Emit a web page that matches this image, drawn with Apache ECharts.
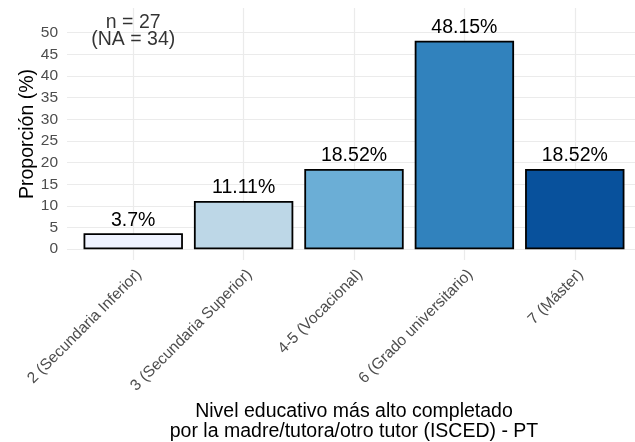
<!DOCTYPE html>
<html>
<head>
<meta charset="utf-8">
<script src="https://cdn.jsdelivr.net/npm/echarts@6/dist/echarts.min.js"></script>
<style>
html,body{margin:0;padding:0;background:#fff;}
#chart{width:635px;height:442px;}
</style>
</head>
<body>
<div id="chart"></div>
<script>
// ---- data ----
const categories = ['2 (Secundaria Inferior)', '3 (Secundaria Superior)', '4-5 (Vocacional)', '6 (Grado universitario)', '7 (Máster)'];
const proportions = [3.7, 11.11, 18.52, 48.15, 18.52];
const yTicks = [0, 5, 10, 15, 20, 25, 30, 35, 40, 45, 50];
const nValid = 27;
const nMissing = 34;
const annotationY = 50.4;

// ---- styles ----
const barColors = ['#EFF3FF', '#BDD7E7', '#6BAED6', '#3182BD', '#08519C'];
const FONT = 'Liberation Sans, Arial, sans-serif';

const positions = categories.map((c, i) => i + 1);
const barData = proportions.map((v, i) => ({
  value: [positions[i], v],
  itemStyle: { color: barColors[i] }
}));

const chart = echarts.init(document.getElementById('chart'), null, { renderer: 'canvas' });
chart.setOption({
  animation: false,
  backgroundColor: '#ffffff',
  textStyle: { fontFamily: FONT },
  grid: { left: 67, right: -6, top: 8, bottom: 182, containLabel: false, outerBoundsMode: 'none' },
  xAxis: {
    type: 'value',
    min: 0.4,
    max: 5.6,
    axisLine: { show: false },
    axisTick: { show: false, customValues: positions },
    splitLine: { show: true, lineStyle: { color: '#EBEBEB', width: 1.2 } },
    axisLabel: {
      customValues: positions,
      rotate: 45,
      align: 'right',
      verticalAlign: 'top',
      lineHeight: 17,
      margin: 6,
      fontSize: 15.5,
      color: '#4D4D4D',
      fontFamily: FONT,
      formatter: v => categories[Math.round(v) - 1] || ''
    },
    name: 'Nivel educativo más alto completado\npor la madre/tutora/otro tutor (ISCED) - PT',
    nameLocation: 'middle',
    nameGap: 134,
    nameTextStyle: { fontSize: 19.5, color: '#000', lineHeight: 20, fontFamily: FONT }
  },
  yAxis: {
    type: 'value',
    min: -2.5,
    max: 55.7,
    axisLine: { show: false },
    axisTick: { show: false, customValues: yTicks },
    splitLine: { show: true, lineStyle: { color: '#EBEBEB', width: 1.2 } },
    axisLabel: {
      customValues: yTicks,
      margin: 9,
      fontSize: 15.5,
      color: '#4D4D4D',
      fontFamily: FONT
    },
    name: 'Proporción (%)',
    nameLocation: 'middle',
    nameRotate: 90,
    nameGap: 29,
    nameMoveOverlap: false,
    nameTextStyle: { fontSize: 19.5, color: '#000', fontFamily: FONT }
  },
  series: [
    {
      type: 'bar',
      data: barData,
      barWidth: 99.4,
      itemStyle: { borderColor: '#000', borderWidth: 1.8 },
      label: {
        show: true,
        position: 'top',
        distance: 3,
        fontSize: 19.5,
        color: '#000',
        fontFamily: FONT,
        formatter: p => p.value[1] + '%'
      }
    },
    {
      type: 'scatter',
      data: [[positions[0], annotationY]],
      symbolSize: 0,
      silent: true,
      label: {
        show: true,
        position: 'inside',
        fontSize: 19.5,
        lineHeight: 17.5,
        color: '#000',
        fontFamily: FONT,
        formatter: () => 'n = ' + nValid + '\n(NA = ' + nMissing + ')'
      }
    }
  ]
});
</script>
</body>
</html>
